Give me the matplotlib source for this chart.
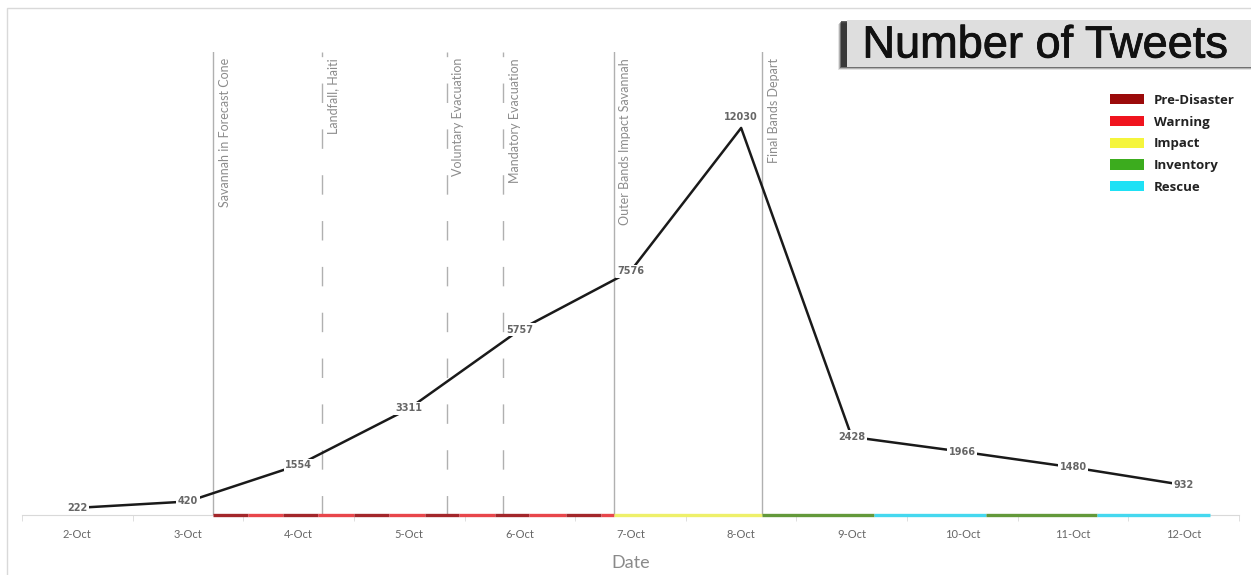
import matplotlib.pyplot as plt
import matplotlib.patheffects as pe
from matplotlib.patches import Rectangle, Patch

# Data
dates = ["2-Oct", "3-Oct", "4-Oct", "5-Oct", "6-Oct", "7-Oct",
         "8-Oct", "9-Oct", "10-Oct", "11-Oct", "12-Oct"]
tweets = [222, 420, 1554, 3311, 5757, 7576, 12030, 2428, 1966, 1480, 932]

# events (position on the date axis, in days from 2-Oct)
event_names = ["Savannah in Forecast Cone", "Landfall, Haiti", "Voluntary Evacuation",
               "Mandatory Evacuation", "Outer Bands Impact Savannah", "Final Bands Depart"]
event_pos = [1.23, 2.21, 3.34, 3.85, 4.85, 6.19]
event_dashed = [False, True, True, True, False, False]

# phase strip along the date axis
phase_names = ["Pre-Disaster", "Warning", "Impact", "Inventory", "Rescue"]
phase_colors = ["#9b0a0a", "#f0141e", "#f5f53c", "#3cac1e", "#1ee1f5"]
strip_colors = ["#a3262a", "#e8464b", "#eef06a", "#63993a", "#45d8ef"]
phase_start = [1.23, 1.546, 1.863, 2.179, 2.505, 2.821, 3.146, 3.454, 3.779, 4.087,
               4.421, 4.729, 4.85, 6.19, 7.197, 8.21, 9.22]
phase_end = [1.546, 1.863, 2.179, 2.505, 2.821, 3.146, 3.454, 3.779, 4.087, 4.421,
             4.729, 4.85, 6.19, 7.197, 8.21, 9.22, 10.24]
phase_id = [0, 1, 0, 1, 0, 1, 0, 1, 0, 1, 0, 1, 2, 3, 4, 3, 4]

fig = plt.figure(figsize=(12.51, 5.75), dpi=100)
W, H = 1251, 575
ax = fig.add_axes([22 / W, 60 / H, 1217 / W, 463 / H])

# outer frame
fig.patches.append(Rectangle((7 / W, -0.1), 1.2, 567 / H + 0.1, transform=fig.transFigure,
                             fill=False, edgecolor="#d9d9d9", lw=1))

x = list(range(len(dates)))
ax.plot(x, tweets, color="#1a1a1a", lw=1.8, zorder=3, solid_capstyle="butt")

for i, v in enumerate(tweets):
    dy = 8 if v == max(tweets) else 0
    ax.annotate(str(v), (i, v), xytext=(0, dy), textcoords="offset points",
                ha="center", va="center", fontsize=7, fontweight="bold", color="#666666",
                family="DejaVu Sans",
                bbox=dict(boxstyle="square,pad=0.15", fc="white", ec="none"), zorder=4)

for name, p, dashed in zip(event_names, event_pos, event_dashed):
    ls = (0, (14, 19)) if dashed else "-"
    ax.axvline(p, color="#b0b0b0", lw=1, ls=ls, zorder=1)
    ax.text(p + 0.05, 14200, name, rotation=90, ha="left", va="top",
            fontsize=9, color="#8c8c8c", family="Lato")

for s, e, k in zip(phase_start, phase_end, phase_id):
    ax.plot([s, e], [0, 0], color=strip_colors[k], lw=2.4, solid_capstyle="butt",
            zorder=5, clip_on=False)

ax.set_xlim(-0.5, 10.5)
ax.set_ylim(0, 14390)
for side in ["top", "right", "left"]:
    ax.spines[side].set_visible(False)
ax.spines["bottom"].set_color("#d9d9d9")
ax.set_yticks([])
ax.set_xticks(x)
ax.set_xticklabels(dates, fontsize=8, color="#666666", family="Lato")
ax.set_xticks([i - 0.5 for i in range(len(dates) + 1)], minor=True)
ax.tick_params(axis="x", which="major", length=0, pad=10)
ax.tick_params(axis="x", which="minor", length=4, color="#d9d9d9")
ax.set_xlabel("Date", fontsize=13, color="#8a8a8a", family="Lato", labelpad=11)

# legend
handles = [Patch(facecolor=c, edgecolor="none") for c in phase_colors]
leg = fig.legend(handles, phase_names, loc="upper left",
                 bbox_to_anchor=(1110 / W, 1 - 94 / H), frameon=False,
                 handlelength=2.6, handleheight=0.8, handletextpad=0.7,
                 labelspacing=0.66, borderpad=0, borderaxespad=0,
                 prop={"family": "Open Sans", "weight": "bold", "size": 9.5})
for t in leg.get_texts():
    t.set_color("#222222")

# title box with shadow
for k, a in enumerate([0.12, 0.25, 0.45, 0.7]):
    fig.patches.append(Rectangle(((838 + k) / W, (505 + k) / H), 0.5, 46 / H,
                                 transform=fig.transFigure, fc="#222222", ec="none",
                                 alpha=a, zorder=5))
fig.patches.append(Rectangle((847 / W, 508 / H), 0.5, 47 / H, transform=fig.transFigure,
                             fc="#dedede", ec="none", zorder=6))
fig.text(1045 / W, 529 / H, "Number of Tweets", ha="center", va="center",
         fontsize=32.5, family="Liberation Sans", color="#111111", zorder=7,
         path_effects=[pe.withStroke(linewidth=0.6, foreground="#111111")])

fig.savefig("out.png", dpi=100)
